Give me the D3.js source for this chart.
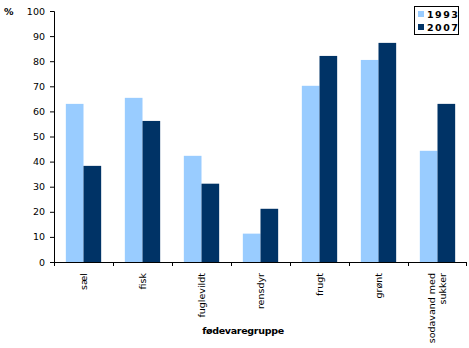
<!DOCTYPE html>
<html><head><meta charset="utf-8">
<script src="https://cdn.jsdelivr.net/npm/d3@7"></script>
<style>body{margin:0;background:#fff}svg{display:block}</style>
</head><body>
<script>
const categories = ["sæl","fisk","fuglevildt","rensdyr","frugt","grønt","sodavand med sukker"];
const series = ["1993","2007"];
const values1993 = [63, 65.4, 42.3, 11.3, 70.2, 80.5, 44.3];
const values2007 = [38.3, 56.2, 31.2, 21.2, 82.1, 87.3, 63];
const yTicks = [0,10,20,30,40,50,60,70,80,90,100];
const colors = ["#99CCFF","#003366"];

const W=469,H=348;
const svg=d3.select("body").append("svg").attr("width",W).attr("height",H);
const x0=54, x1=467, yTop=11, yBot=262;
const x=d3.scaleBand().domain(categories).range([x0,x1]).paddingInner(0).paddingOuter(0);
const y=d3.scaleLinear().domain([0,100]).range([yBot,yTop]);
const xs=d3.scaleBand().domain(series).range([0,x.bandwidth()]).paddingInner(0).paddingOuter(0.67);
const font="Verdana, 'DejaVu Sans', sans-serif";

const data=categories.map((c,i)=>({c,v:[values1993[i],values2007[i]]}));
const g=svg.append("g");
data.forEach(d=>{
  series.forEach((s,j)=>{
    g.append("rect").attr("x",x(d.c)+xs(s)).attr("width",xs.bandwidth())
     .attr("y",y(d.v[j])).attr("height",y(0)-y(d.v[j])).attr("fill",colors[j]);
  });
});

// y axis
const ya=svg.append("g").attr("transform",`translate(${x0},0)`)
  .call(d3.axisLeft(y).tickValues(yTicks).tickSize(4).tickPadding(5));
ya.selectAll("text").attr("font-family",font).attr("font-size","9.5px").attr("fill","#000");
ya.selectAll("line,path").attr("stroke","#000");

// x axis line and ticks between categories
svg.append("line").attr("x1",x0).attr("x2",x1).attr("y1",yBot+0.5).attr("y2",yBot+0.5).attr("stroke","#000");
categories.forEach(c=>{
  svg.append("line").attr("x1",Math.round(x(c))+0.5).attr("x2",Math.round(x(c))+0.5)
    .attr("y1",yBot).attr("y2",yBot+4).attr("stroke","#000");
});
svg.append("line").attr("x1",x1-0.5).attr("x2",x1-0.5).attr("y1",yBot).attr("y2",yBot+4).attr("stroke","#000");

// category labels rotated
categories.forEach(c=>{
  const cx=x(c)+x.bandwidth()/2;
  const lines = c==="sodavand med sukker" ? ["sodavand med","sukker"] : [c];
  const t=svg.append("text").attr("transform",`translate(${cx},${yBot+11}) rotate(-90)`)
    .attr("text-anchor","end").attr("font-family",font).attr("font-size","9.5px").attr("fill","#000");
  lines.forEach((l,k)=>{
    t.append("tspan").attr("x",0).attr("dy",k===0? (lines.length>1?"-0.25em":"0.35em"):"1.1em").text(l);
  });
});

// axis titles
svg.append("text").attr("x",243).attr("y",334).attr("text-anchor","middle")
  .attr("font-family",font).attr("font-size","9.5px").attr("font-weight","bold").attr("letter-spacing","-0.3px").text("fødevaregruppe");
svg.append("text").attr("x",4).attr("y",15)
  .attr("font-family",font).attr("font-size","9.5px").attr("font-weight","bold").text("%");

// legend
const lg=svg.append("g").attr("transform","translate(414,6)");
lg.append("rect").attr("x",0.5).attr("y",0.5).attr("width",44).attr("height",28).attr("fill","#fff").attr("stroke","#000");
series.forEach((s,j)=>{
  lg.append("rect").attr("x",4).attr("y",5+j*13).attr("width",6).attr("height",6).attr("fill",colors[j]);
  lg.append("text").attr("x",13).attr("y",11.5+j*13).attr("font-family",font).attr("font-size","9.5px")
    .attr("font-weight","bold").attr("letter-spacing","1.5px").text(s);
});
</script>
</body></html>
